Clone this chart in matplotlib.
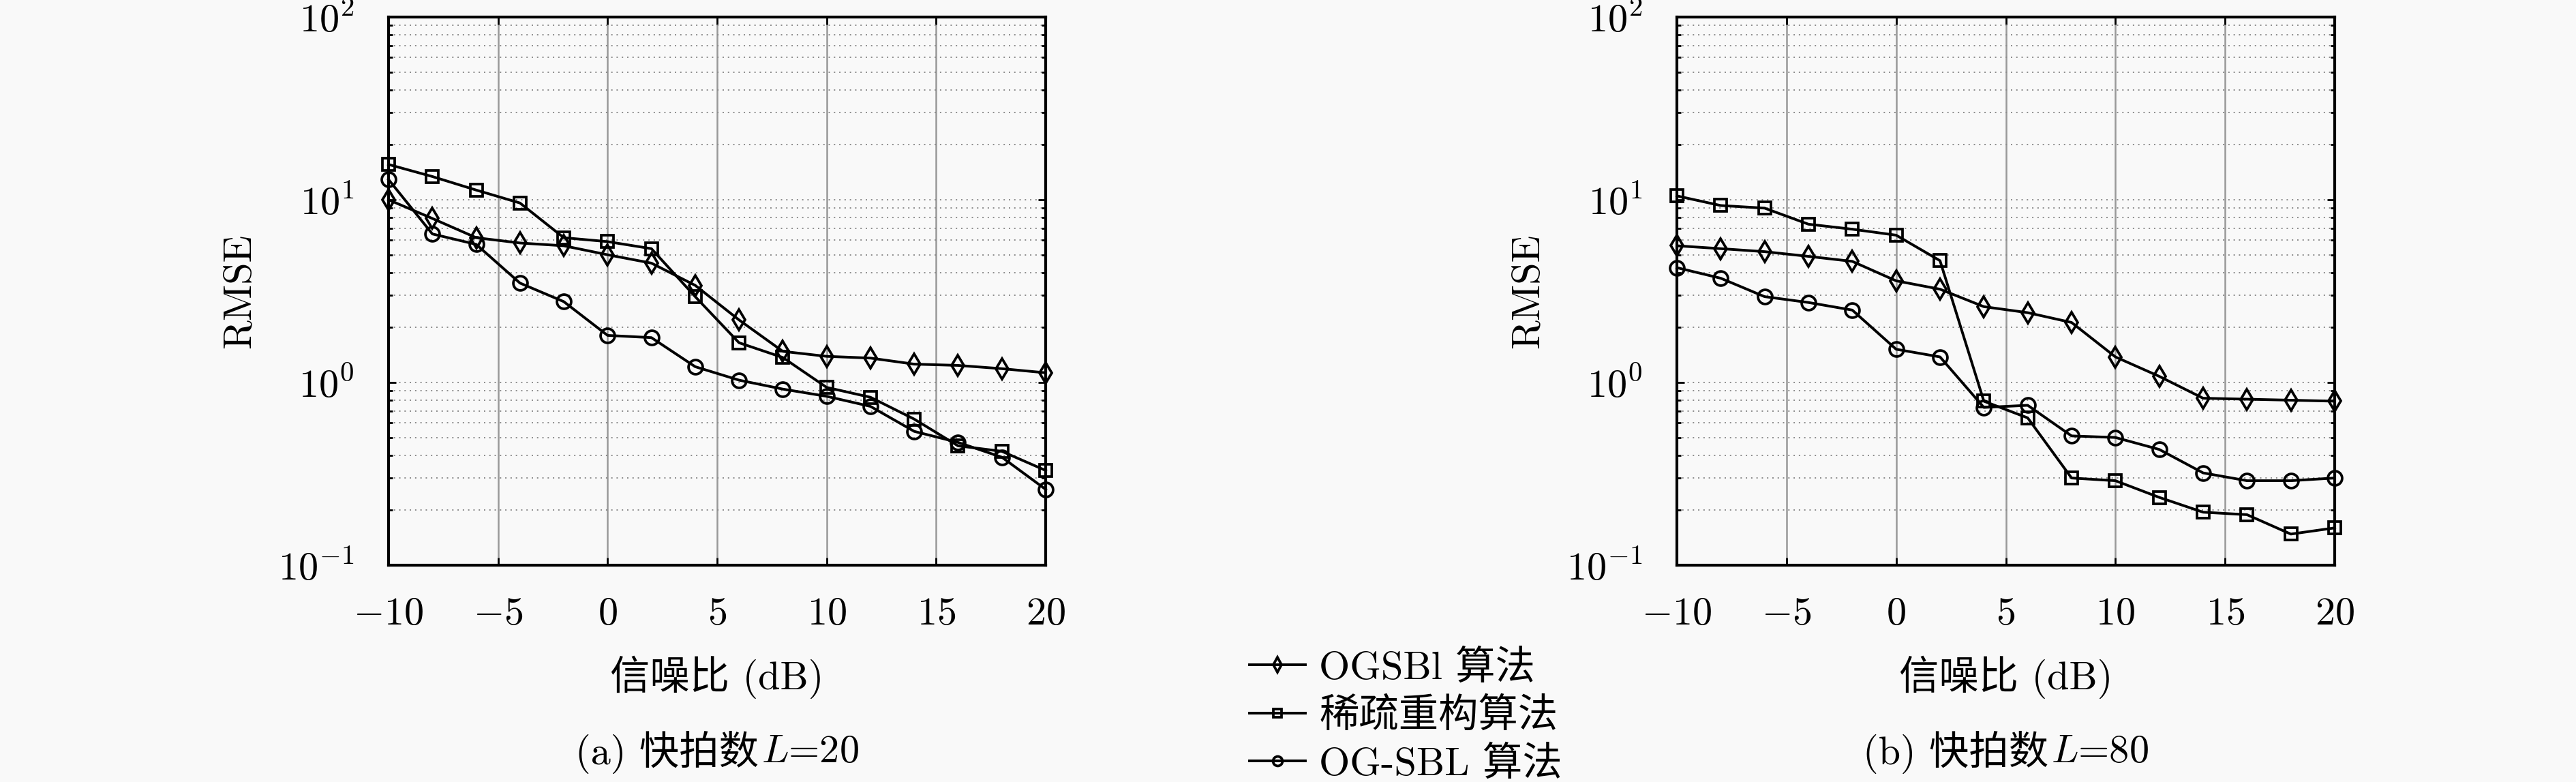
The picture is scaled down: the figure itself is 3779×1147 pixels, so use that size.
import numpy as np
import matplotlib
matplotlib.use('Agg')
import matplotlib.pyplot as plt
from matplotlib.ticker import LogLocator, NullFormatter, FixedLocator
from matplotlib.lines import Line2D

# SNR grid (dB)
snr = [-10, -8, -6, -4, -2, 0, 2, 4, 6, 8, 10, 12, 14, 16, 18, 20]

# (a) L = 20 snapshots, RMSE
ogsbi_a = [10.0, 7.9, 6.2, 5.8, 5.6, 5.0, 4.5, 3.4, 2.2, 1.48, 1.39, 1.36, 1.26, 1.24, 1.19, 1.13]
sparse_a = [15.6, 13.4, 11.3, 9.6, 6.2, 5.9, 5.4, 2.95, 1.65, 1.37, 0.94, 0.83, 0.63, 0.45, 0.42, 0.33]
ogsbl_a = [12.9, 6.5, 5.7, 3.5, 2.77, 1.81, 1.76, 1.22, 1.03, 0.92, 0.84, 0.74, 0.54, 0.47, 0.39, 0.26]

# (b) L = 80 snapshots
ogsbi_b = [5.6, 5.4, 5.2, 4.9, 4.6, 3.6, 3.24, 2.6, 2.41, 2.13, 1.38, 1.08, 0.82, 0.81, 0.80, 0.79]
sparse_b = [10.5, 9.3, 9.0, 7.35, 6.9, 6.4, 4.64, 0.79, 0.64, 0.30, 0.29, 0.235, 0.195, 0.189, 0.148, 0.160]
ogsbl_b = [4.25, 3.72, 2.95, 2.74, 2.49, 1.52, 1.38, 0.73, 0.75, 0.51, 0.50, 0.43, 0.32, 0.29, 0.29, 0.30]

labels = ['OGSBl 算法', '稀疏重构算法', 'OG-SBL 算法']
cap_left = ['(a) 快拍数', '(b) 快拍数']
cap_right = ['$L$=20', '$L$=80']
xticks = [-10, -5, 0, 5, 10, 15, 20]
xlabel = '信噪比 (dB)'
ylabel = 'RMSE'

plt.rcParams['font.family'] = ['cmr10', 'Noto Sans CJK SC', 'DejaVu Sans']
plt.rcParams['mathtext.fontset'] = 'cm'
plt.rcParams['axes.formatter.use_mathtext'] = True
plt.rcParams['font.size'] = 42
plt.rcParams['axes.unicode_minus'] = True

bg = '#f9f9f9'
W, H = 3780, 1147
fig = plt.figure(figsize=(W / 100, H / 100), dpi=100, facecolor=bg)

# axes boxes in pixels: left, top, right, bottom
boxes = [(570, 25, 1534, 829), (2460, 25, 3425, 829)]
data = [(ogsbi_a, sparse_a, ogsbl_a), (ogsbi_b, sparse_b, ogsbl_b)]
styles = [dict(marker='d', ms=15), dict(marker='s', ms=13), dict(marker='o', ms=15)]

axes = []
for (l, t, r, b), series in zip(boxes, data):
    ax = fig.add_axes([l / W, 1 - b / H, (r - l) / W, (b - t) / H], facecolor=bg)
    ax.set_yscale('log')
    ax.set_xlim(-10, 20)
    ax.set_ylim(0.1, 100)
    ax.xaxis.set_major_locator(FixedLocator(xticks))
    ax.yaxis.set_major_locator(LogLocator(base=10, numticks=10))
    ax.yaxis.set_minor_locator(LogLocator(base=10, subs=np.arange(2, 10), numticks=10))
    ax.yaxis.set_minor_formatter(NullFormatter())

    ax.grid(True, axis='x', which='major', color='#999999', lw=1.8, ls='-')
    ax.grid(True, axis='y', which='both', color='#8a8a8a', lw=1.4, ls=(0, (1, 3)))
    ax.set_axisbelow(True)

    for sp in ax.spines.values():
        sp.set_linewidth(3.0)
    ax.tick_params(which='both', direction='in', top=True, right=True, width=2.0)
    ax.tick_params(which='major', length=8)
    ax.tick_params(which='minor', length=4)
    ax.tick_params(axis='x', pad=34, labelsize=42)
    ax.tick_params(axis='y', pad=36, labelsize=42)

    for vals, st in zip(series, styles):
        ax.plot(snr, vals, color='black', lw=2.8, mfc='none', mec='black', mew=2.7,
                clip_on=False, zorder=3, **st)
    axes.append(ax)

# axis labels
for (l, t, r, b) in boxes:
    cx = (l + r) / 2
    fig.text((l - 218) / W, 1 - (t + b) / 2 / H, ylabel, rotation=90,
             ha='center', va='center', fontsize=42)
    fig.text(cx / W, 1 - 993 / H, xlabel, ha='center', va='center', fontsize=42)

# captions: Chinese part and italic L drawn side by side
renderer = fig.canvas.get_renderer()
for i, (l, t, r, b) in enumerate(boxes):
    cx = (l + r) / 2
    t1 = fig.text(0, 1 - 1103 / H, cap_left[i], ha='left', va='center', fontsize=42)
    t2 = fig.text(0, 1 - 1103 / H, cap_right[i], ha='left', va='center', fontsize=42)
    w1 = t1.get_window_extent(renderer).width
    w2 = t2.get_window_extent(renderer).width
    x0 = cx - (w1 + w2 + 4) / 2
    t1.set_x(x0 / W)
    t2.set_x((x0 + w1 + 4) / W)

# shared legend between the two panels
handles = [
    Line2D([], [], color='black', lw=2.8, marker='d', ms=11, mfc='none', mew=2.7),
    Line2D([], [], color='black', lw=2.8, marker='s', ms=9, mfc='none', mew=2.7),
    Line2D([], [], color='black', lw=2.8, marker='o', ms=10, mfc='none', mew=2.7),
]
fig.legend(handles, labels, loc='upper left', bbox_to_anchor=(1833 / W, 1 - 952 / H),
           frameon=False, fontsize=42, handlelength=1.4, handletextpad=0.35,
           labelspacing=0.28, borderpad=0, borderaxespad=0)

fig.savefig('out.png', dpi=100, facecolor=bg)
